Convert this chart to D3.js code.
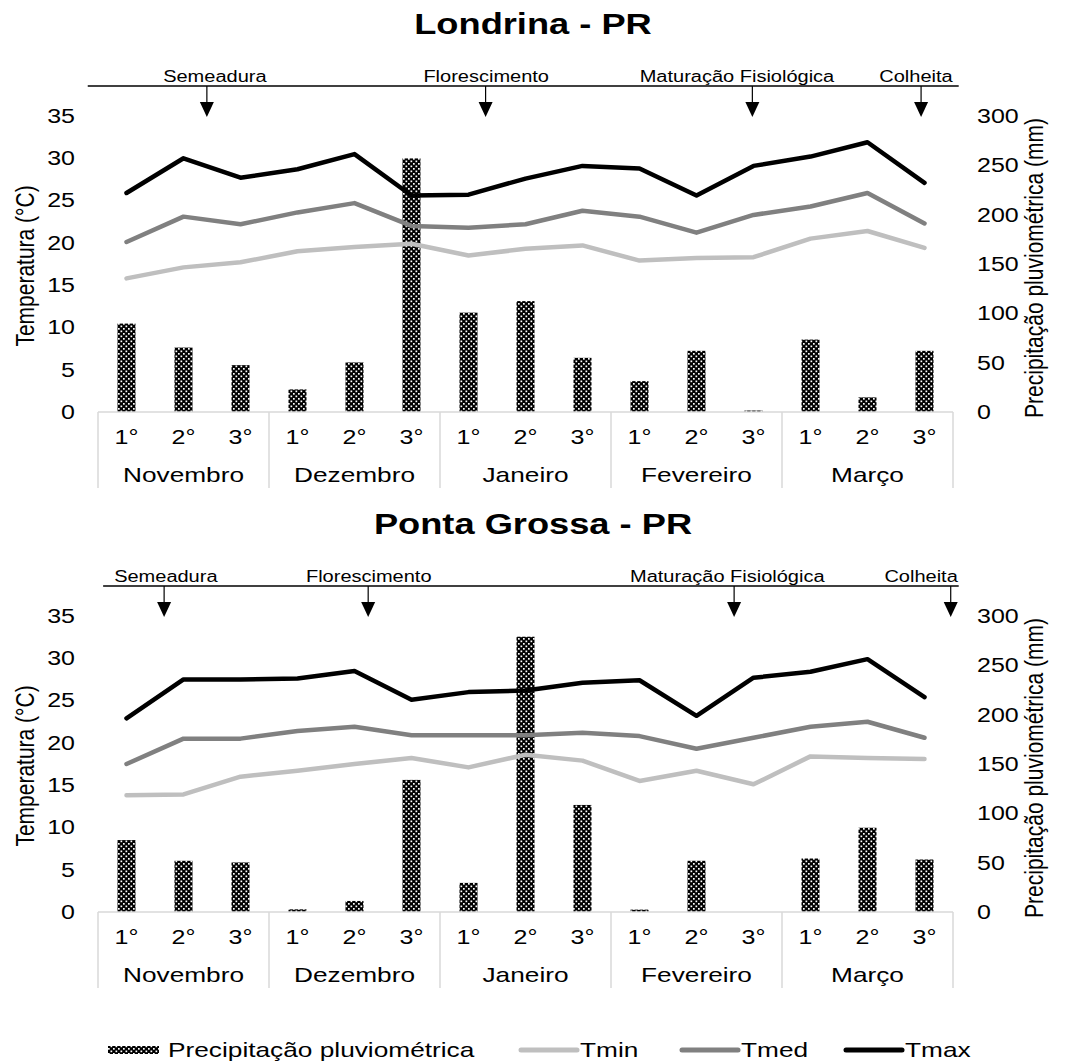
<!DOCTYPE html>
<html>
  <head>
    <meta charset="utf-8">
    <title>Londrina / Ponta Grossa</title>
    <style>
      body { margin: 0; background: white; }
      text { font-family: "Liberation Sans", Arial, sans-serif; fill: #000; }
    </style>
  </head>
  <body>
    <svg width="1067" height="1061"></svg>
    <script src="https://d3js.org/d3.v7.min.js"></script>
    <script type="application/javascript">
      // the original figure is stretched sideways, so text gets a horizontal scale
      const SX = 1.25;

      const months = ["Novembro", "Dezembro", "Janeiro", "Fevereiro", "Março"];
      const periods = ["1°", "2°", "3°"];

      const londrinaTmin = [15.8, 17.1, 17.7, 19.0, 19.5, 19.9, 18.5, 19.3, 19.7, 17.9, 18.2, 18.3, 20.5, 21.4, 19.4];
      const londrinaTmed = [20.1, 23.1, 22.2, 23.6, 24.7, 22.0, 21.8, 22.2, 23.8, 23.1, 21.2, 23.3, 24.3, 25.9, 22.3];
      const londrinaTmax = [25.9, 30.0, 27.7, 28.7, 30.5, 25.6, 25.7, 27.6, 29.1, 28.8, 25.6, 29.1, 30.2, 31.9, 27.1];
      const londrinaPrecip = [89.6, 65.3, 47.5, 22.9, 50.2, 257, 100.7, 112.4, 54.9, 31.3, 62, 1.5, 73.4, 14.8, 62];
      // phase marks in category units (0 = left edge of Nov 1°)
      const londrinaPhases = [
        {label: "Semeadura", arrow: 1.91, text: 2.05},
        {label: "Florescimento", arrow: 6.80, text: 6.81},
        {label: "Maturação Fisiológica", arrow: 11.48, text: 11.21},
        {label: "Colheita", arrow: 14.44, text: 14.35}
      ];

      const pontaTmin = [13.8, 13.9, 16.0, 16.7, 17.5, 18.2, 17.1, 18.6, 17.9, 15.5, 16.7, 15.1, 18.4, 18.2, 18.1];
      const pontaTmed = [17.5, 20.5, 20.5, 21.4, 21.9, 20.9, 20.9, 20.9, 21.2, 20.8, 19.3, 20.6, 21.9, 22.5, 20.6];
      const pontaTmax = [22.9, 27.5, 27.5, 27.6, 28.5, 25.1, 26.0, 26.2, 27.1, 27.4, 23.2, 27.7, 28.4, 29.9, 25.4];
      const pontaPrecip = [72.9, 51.9, 50.2, 2.7, 11.2, 133.9, 29.5, 279, 108.5, 2.4, 51.9, 0, 54.2, 85.4, 53.2];
      const pontaPhases = [
        {label: "Semeadura", arrow: 1.16, text: 1.19},
        {label: "Florescimento", arrow: 4.74, text: 4.75},
        {label: "Maturação Fisiológica", arrow: 11.16, text: 11.04},
        {label: "Colheita", arrow: 14.96, text: 14.44}
      ];

      const tempTicks = [0, 5, 10, 15, 20, 25, 30, 35];
      const precipTicks = [0, 50, 100, 150, 200, 250, 300];

      const seriesStyle = [
        {name: "Tmin", color: "#bfbfbf"},
        {name: "Tmed", color: "#808080"},
        {name: "Tmax", color: "#000000"}
      ];

      const svg = d3.select("svg");

      // dotted fill of the rain bars
      const pat = svg.append("defs").append("pattern")
        .attr("id", "dots")
        .attr("patternUnits", "userSpaceOnUse")
        .attr("width", 5).attr("height", 5);
      pat.append("rect").attr("width", 5).attr("height", 5).attr("fill", "#000");
      pat.append("rect").attr("x", 0.5).attr("y", 0.5).attr("width", 1.7).attr("height", 1.7).attr("fill", "#fff");
      pat.append("rect").attr("x", 3).attr("y", 3).attr("width", 1.7).attr("height", 1.7).attr("fill", "#fff");

      function label(g, x, y, str, size, anchor, rotate) {
        return g.append("text")
          .attr("transform", `translate(${x},${y}) scale(${SX},1)` + (rotate ? " rotate(-90)" : ""))
          .attr("text-anchor", anchor || "middle")
          .attr("dy", "0.35em")
          .style("font-size", size + "px")
          .text(str);
      }

      const cats = d3.range(15);
      const x = d3.scaleBand().domain(cats).range([98, 953]);
      const xPos = d3.scaleLinear().domain([0, 15]).range([98, 953]);

      function panel(top, title, tmin, tmed, tmax, precip, phases, phaseLeft) {
        const g = svg.append("g");
        const base = top + 412;
        const yT = d3.scaleLinear().domain([0, 35]).range([base, base - 296]);
        const yP = d3.scaleLinear().domain([0, 300]).range([base, base - 296]);

        label(g, 533, top + 24, title, 29).style("font-weight", "bold");

        // phase line with arrows
        const lineY = top + 86;
        g.append("line")
          .attr("x1", xPos(phaseLeft)).attr("x2", xPos(15.1))
          .attr("y1", lineY).attr("y2", lineY)
          .attr("stroke", "#000").attr("stroke-width", 1.5);
        phases.forEach(p => {
          label(g, xPos(p.text), lineY - 10, p.label, 16);
          const ax = xPos(p.arrow);
          g.append("line")
            .attr("x1", ax).attr("x2", ax)
            .attr("y1", lineY).attr("y2", lineY + 17)
            .attr("stroke", "#000").attr("stroke-width", 1.2);
          g.append("path")
            .attr("d", `M${ax - 7},${lineY + 16}L${ax + 7},${lineY + 16}L${ax},${lineY + 31}Z`)
            .attr("fill", "#000");
        });

        // left axis
        const left = g.append("g").attr("transform", "translate(75,0)")
          .call(d3.axisLeft(yT).tickValues(tempTicks).tickSize(0).tickPadding(0));
        left.select(".domain").remove();
        left.selectAll("text")
          .attr("transform", `scale(${SX},1)`)
          .style("font-size", "20px").style("font-family", null);

        const right = g.append("g").attr("transform", "translate(977,0)")
          .call(d3.axisRight(yP).tickValues(precipTicks).tickSize(0).tickPadding(0));
        right.select(".domain").remove();
        right.selectAll("text")
          .attr("transform", `scale(${SX},1)`)
          .style("font-size", "20px").style("font-family", null);

        label(g, 25, top + 266, "Temperatura (°C)", 21, "middle", true);
        label(g, 1034, top + 268, "Precipitação pluviométrica (mm)", 21, "middle", true);

        // bars
        const bw = 18;
        g.append("g").selectAll("rect")
          .data(precip)
          .join("rect")
            .attr("x", (d, i) => x(i) + x.bandwidth() / 2 - bw / 2)
            .attr("y", d => yP(d))
            .attr("width", bw)
            .attr("height", d => base - yP(d))
            .attr("fill", "url(#dots)");

        // category axis
        const ax = g.append("g");
        ax.append("line")
          .attr("x1", x(0)).attr("x2", x(14) + x.bandwidth())
          .attr("y1", base).attr("y2", base)
          .attr("stroke", "#d9d9d9").attr("stroke-width", 1.5);
        d3.range(6).forEach(m => {
          const mx = m < 5 ? x(m * 3) : x(14) + x.bandwidth();
          ax.append("line")
            .attr("x1", mx).attr("x2", mx)
            .attr("y1", base).attr("y2", base + 76)
            .attr("stroke", "#d9d9d9").attr("stroke-width", 1.5);
        });
        cats.forEach(i => {
          label(ax, x(i) + x.bandwidth() / 2, base + 25, periods[i % 3], 20);
        });
        months.forEach((m, i) => {
          label(ax, xPos(i * 3 + 1.5), base + 63, m, 21);
        });

        // temperature lines
        const line = d3.line()
          .x((d, i) => x(i) + x.bandwidth() / 2)
          .y(d => yT(d));
        [tmin, tmed, tmax].forEach((s, k) => {
          g.append("path")
            .datum(s)
            .attr("d", line)
            .attr("fill", "none")
            .attr("stroke", seriesStyle[k].color)
            .attr("stroke-width", 4.5)
            .attr("stroke-linejoin", "round")
            .attr("stroke-linecap", "round");
        });
      }

      panel(0, "Londrina - PR", londrinaTmin, londrinaTmed, londrinaTmax, londrinaPrecip, londrinaPhases, -0.18);
      panel(500, "Ponta Grossa - PR", pontaTmin, pontaTmed, pontaTmax, pontaPrecip, pontaPhases, 0.09);

      // legend
      const leg = svg.append("g");
      const ly = 1050;
      leg.append("rect")
        .attr("x", 108).attr("y", ly - 4).attr("width", 51).attr("height", 8)
        .attr("fill", "url(#dots)");
      label(leg, 168, ly, "Precipitação pluviométrica", 21, "start");
      const legX = [521, 682, 846];
      seriesStyle.forEach((s, k) => {
        leg.append("line")
          .attr("x1", legX[k]).attr("x2", legX[k] + 56)
          .attr("y1", ly).attr("y2", ly)
          .attr("stroke", s.color).attr("stroke-width", 5)
          .attr("stroke-linecap", "round");
        label(leg, legX[k] + 59, ly, s.name, 21, "start");
      });
    </script>
  </body>
</html>
